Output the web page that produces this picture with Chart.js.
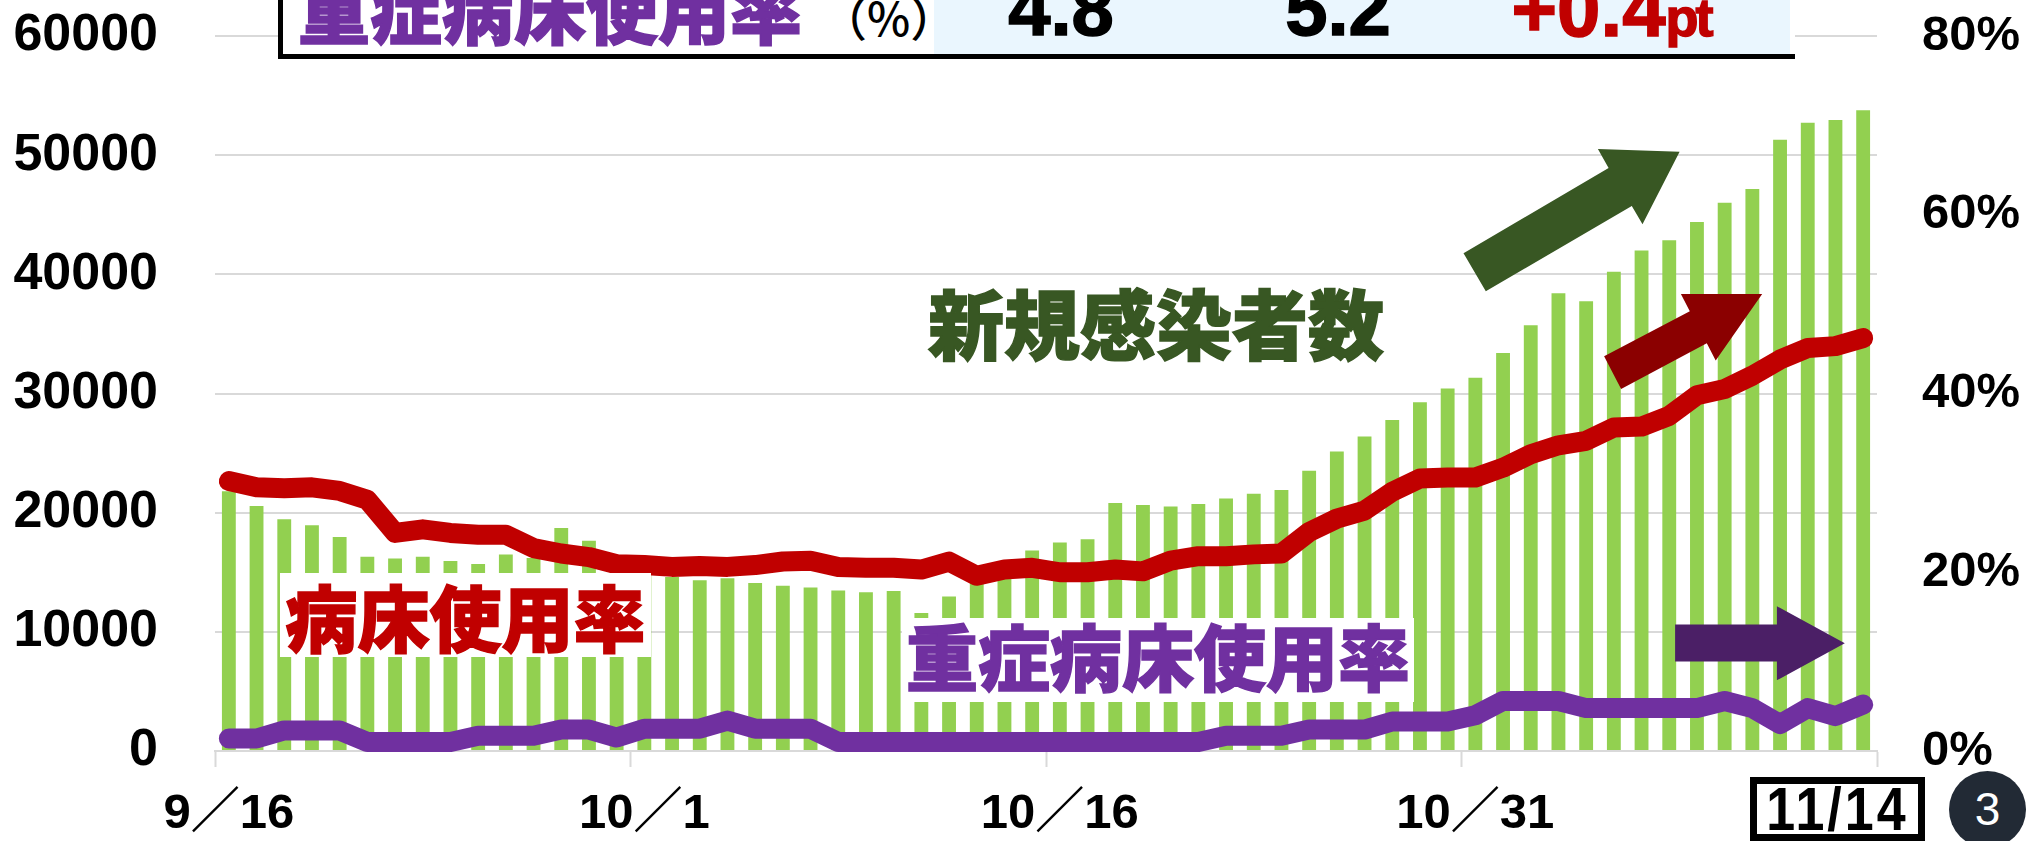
<!DOCTYPE html>
<html lang="ja">
<head>
<meta charset="utf-8">
<title>新規感染者数と病床使用率</title>
<script src="https://cdn.jsdelivr.net/npm/chart.js@4"></script>
<style>
  html, body { margin: 0; padding: 0; background: #fff; overflow: hidden; }
  #stage { position: relative; width: 2026px; height: 841px; overflow: hidden; }
  #stage canvas { position: absolute; left: 0; top: 0; }
  .note { position: absolute; white-space: nowrap; font-family: "Noto Sans CJK JP", sans-serif; font-weight: 900; -webkit-text-stroke: 1.5px currentColor; }
  .num { position: absolute; white-space: nowrap; font-family: "Liberation Sans", sans-serif; font-weight: 700; color: #000; transform: translateX(-50%); -webkit-text-stroke: 1.5px currentColor; }
  #arrows { position: absolute; left: 0; top: 0; }
  #table-box { position: absolute; left: 278px; top: -4px; width: 1512px; height: 58px; background: #fff; border-left: 5px solid #000; border-bottom: 5px solid #000; }
  #table-fill { position: absolute; left: 934px; top: 0; width: 856px; height: 54px; background: #eaf6fe; }
  #date-box { position: absolute; left: 1750px; top: 777px; width: 161px; height: 50px; border: 7px solid #000; background: #fff; text-align: center; overflow: hidden; }
  #date-box span { display: inline-block; font: 700 52px/50px "Liberation Sans", sans-serif; letter-spacing: 3px; transform: scaleY(1.18); }
  #badge { position: absolute; left: 1949px; top: 771px; width: 77px; height: 77px; border-radius: 50%; background: #222a35; color: #fff; font: 400 46px/77px "Liberation Sans", sans-serif; text-align: center; }
</style>
</head>
<body>
<div id="stage">
  <canvas id="chart" width="2026" height="841"></canvas>

  <div id="table-box"></div>
  <div id="table-fill"></div>
  <div class="note" style="left:298px;top:-38px;font-size:72px;line-height:90px;color:#7030a0">重症病床使用率</div>
  <div class="note" style="left:821px;top:-12px;font-size:46px;line-height:56px;color:#000;font-weight:500;-webkit-text-stroke:0">（%）</div>
  <div class="num" style="left:1061px;top:-33px;font-size:76px;line-height:84px">4.8</div>
  <div class="num" style="left:1338px;top:-33px;font-size:76px;line-height:84px">5.2</div>
  <div class="num" style="left:1611px;top:-33px;font-size:78px;line-height:84px;color:#c00000">+0.4<span style="font-size:54px;letter-spacing:-3px">pt</span></div>

  <div class="note" style="left:280px;top:573px;width:371px;height:84px;background:#fff;text-align:center;font-size:72px;line-height:84px;color:#c00000">病床使用率</div>
  <div class="note" style="left:902px;top:618px;width:512px;height:84px;background:#fff;text-align:center;font-size:72px;line-height:72px;color:#7030a0">重症病床使用率</div>
  <div class="note" style="left:928px;top:276px;font-size:76px;line-height:90px;color:#385723">新規感染者数</div>

  <svg id="arrows" width="2026" height="841">
    <polygon fill="#385723" points="1463.5,253.2 1608.6,167.9 1597.9,149.1 1679.6,151.8 1642.5,224.2 1631.8,206 1485.8,291.3"/>
    <polygon fill="#8b0000" points="1604.1,356.2 1689.8,311.2 1680.9,294 1762.2,294 1715.7,360.5 1706.8,343.3 1621.1,389"/>
    <polygon fill="#4b1f66" points="1675.1,624.5 1776.9,624.5 1776.9,606.2 1844.8,643.2 1776.9,680.3 1776.9,661.5 1675.1,661.5"/>
  </svg>

  <div id="date-box"><span>11/14</span></div>
  <div id="badge">3</div>
</div>

<script>
// ==================== Data ====================
const dates = [
  '9/16','9/17','9/18','9/19','9/20','9/21','9/22','9/23','9/24','9/25','9/26','9/27','9/28','9/29','9/30',
  '10/1','10/2','10/3','10/4','10/5','10/6','10/7','10/8','10/9','10/10','10/11','10/12','10/13','10/14','10/15',
  '10/16','10/17','10/18','10/19','10/20','10/21','10/22','10/23','10/24','10/25','10/26','10/27','10/28','10/29','10/30',
  '10/31','11/1','11/2','11/3','11/4','11/5','11/6','11/7','11/8','11/9','11/10','11/11','11/12','11/13','11/14'
];
const newCases = [
  21800, 20560, 19440, 18950, 17960, 16300, 16160, 16300, 15940, 15700, 16480, 16200, 18720, 17650, 15500,
  15000, 14600, 14320, 14500, 14100, 13870, 13730, 13460, 13330, 13420, 11580, 12970, 14900, 15800, 16830,
  17500, 17770, 20820, 20650, 20510, 20730, 21180, 21590, 21900, 23520, 25130, 26390, 27780, 29260, 30430,
  31330, 33390, 35730, 38420, 37750, 40210, 42010, 42860, 44390, 46000, 47170, 51300, 52730, 52960, 53770
];
const bedRate = [
  30.2, 29.5, 29.4, 29.5, 29.1, 28.1, 24.4, 24.8, 24.4, 24.2, 24.2, 22.7, 22.1, 21.7, 20.9,
  20.8, 20.6, 20.7, 20.6, 20.8, 21.2, 21.3, 20.6, 20.5, 20.5, 20.3, 21.2, 19.6, 20.3, 20.5,
  20.0, 20.0, 20.3, 20.1, 21.3, 21.8, 21.8, 22.0, 22.1, 24.5, 26.0, 26.9, 29.0, 30.5, 30.6,
  30.6, 31.7, 33.2, 34.2, 34.7, 36.2, 36.3, 37.5, 39.8, 40.5, 42.0, 43.8, 45.1, 45.3, 46.2
];
const severeBedRate = [
  1.4, 1.4, 2.3, 2.3, 2.3, 1.0, 1.0, 1.0, 1.0, 1.7, 1.7, 1.7, 2.4, 2.4, 1.5,
  2.5, 2.5, 2.5, 3.4, 2.5, 2.5, 2.5, 1.0, 1.0, 1.0, 1.0, 1.0, 1.0, 1.0, 1.0,
  1.0, 1.0, 1.0, 1.0, 1.0, 1.0, 1.7, 1.7, 1.7, 2.4, 2.4, 2.4, 3.3, 3.3, 3.3,
  4.0, 5.6, 5.6, 5.6, 4.8, 4.8, 4.8, 4.8, 4.8, 5.6, 4.8, 3.0, 4.8, 3.9, 5.2
];
const LABEL_EVERY = 15;
const TICK_FONT = { family: '"Liberation Sans", "Noto Sans CJK JP", sans-serif', size: 49, weight: 'bold' };
const CASES_FONT = { family: '"Liberation Sans", sans-serif', size: 52, weight: 'bold' };
const GRID_COLOR = '#d9d9d9';

// ==================== Chart ====================
const lineClip = { left: 30, right: 30, top: 30, bottom: 3 };
const noOverflow = s => { s.paddingTop = 0; s.paddingBottom = 0; s.paddingLeft = 0; s.paddingRight = 0; };

new Chart(document.getElementById('chart').getContext('2d'), {
  data: {
    labels: dates,
    datasets: [
      { type: 'line', label: '病床使用率', data: bedRate, yAxisID: 'yRate', order: 2,
        borderColor: '#c00000', borderWidth: 20, pointRadius: 0, tension: 0,
        borderCapStyle: 'round', borderJoinStyle: 'round', clip: lineClip },
      { type: 'line', label: '重症病床使用率', data: severeBedRate, yAxisID: 'yRate', order: 1,
        borderColor: '#7030a0', borderWidth: 20, pointRadius: 0, tension: 0,
        borderCapStyle: 'round', borderJoinStyle: 'round', clip: lineClip },
      { type: 'bar', label: '新規感染者数', data: newCases, yAxisID: 'yCases', order: 3,
        backgroundColor: '#92d050', barPercentage: 0.5, categoryPercentage: 1 }
    ]
  },
  options: {
    responsive: false,
    animation: false,
    layout: { padding: { top: 36, left: 0, right: 0, bottom: 0 } },
    plugins: { legend: { display: false }, tooltip: { enabled: false } },
    scales: {
      x: {
        offset: true,
        afterFit: s => { s.height = 90; noOverflow(s); },
        border: { color: GRID_COLOR, width: 2 },
        grid: {
          offset: true, drawOnChartArea: false, tickLength: 16, tickWidth: 2,
          tickColor: ctx => (ctx.index === undefined || ctx.index % LABEL_EVERY === 0) ? GRID_COLOR : 'transparent'
        },
        ticks: {
          autoSkip: false, maxRotation: 0, minRotation: 0, padding: 18, color: '#000', font: TICK_FONT,
          callback: (v, i) => i % LABEL_EVERY === 0 ? dates[i].replace('/', '／') : ''
        }
      },
      yCases: {
        position: 'left', min: 0, max: 60000,
        afterFit: s => { s.width = 215; noOverflow(s); },
        border: { display: false },
        grid: { color: GRID_COLOR, lineWidth: 2, drawTicks: false },
        ticks: { stepSize: 10000, padding: 57, color: '#000', font: CASES_FONT, callback: v => String(v) }
      },
      yRate: {
        position: 'right', min: 0, max: 80,
        afterFit: s => { s.width = 149; noOverflow(s); },
        border: { display: false },
        grid: { display: false, drawTicks: false },
        ticks: { stepSize: 20, padding: 45, color: '#000', font: TICK_FONT, callback: v => v + '%' }
      }
    }
  }
});
</script>
</body>
</html>
